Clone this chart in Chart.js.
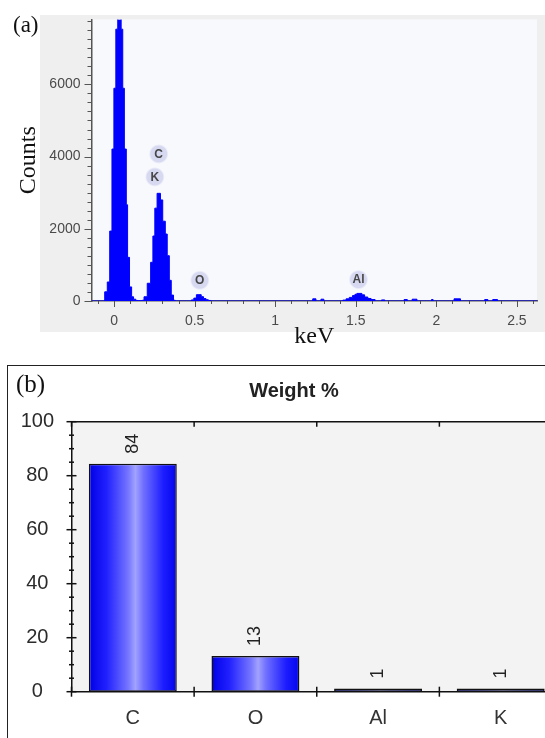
<!DOCTYPE html>
<html lang="en">
<head>
<meta charset="UTF-8">
<title>EDS spectrum and weight %</title>
<script src="https://cdn.jsdelivr.net/npm/chart.js"></script>
<style>
    body {
        margin: 0;
        width: 545px;
        height: 738px;
        overflow: hidden;
        background: #fff;
        position: relative;
        font-family: "Liberation Sans", Arial, sans-serif;
    }
    .tag {
        position: absolute;
        font-family: "Liberation Serif", "Times New Roman", serif;
        color: #111;
        line-height: 1;
    }
    #grayA {
        position: absolute;
        left: 40px; top: 15px;
        width: 505px; height: 317px;
        background: #efefef;
    }
    #boxB {
        position: absolute;
        left: 7px; top: 365px;
        width: 600px; height: 400px;
        border: 1.5px solid #222;
        box-sizing: border-box;
    }
    #titleB {
        position: absolute;
        left: 194px; top: 378px;
        width: 200px;
        text-align: center;
        font-weight: bold;
        font-size: 20px;
        line-height: 24px;
        color: #222;
    }
    canvas { position: absolute; left: 0; }
    #spec { top: 0; }
    #weights { top: 340px; }
</style>
</head>
<body>
    <div id="grayA"></div>
    <div id="boxB"></div>
    <canvas id="spec" width="545" height="352"></canvas>
    <canvas id="weights" width="562" height="398"></canvas>
    <div class="tag" style="left:13px; top:13px; font-size:23px; background:#fff;">(a)</div>
    <div class="tag" style="left:16px; top:371px; font-size:25px;">(b)</div>
    <div id="titleB">Weight %</div>

<script>
    // (a) spectrum, step channels
    const keV = [
        -0.14, -0.075, -0.058, -0.042, -0.027, -0.013, -0.001, 0.011, 0.023, 0.034,
        0.044, 0.054, 0.064, 0.076, 0.084, 0.096, 0.109, 0.121, 0.135, 0.15,
        0.175, 0.186, 0.206, 0.227, 0.241, 0.253, 0.267, 0.288, 0.302, 0.318,
        0.330, 0.343, 0.355, 0.369, 0.38, 0.48, 0.495, 0.511, 0.541, 0.555,
        0.57, 0.585, 0.6, 1.233, 1.253, 1.284, 1.302, 1.42, 1.44, 1.46,
        1.48, 1.495, 1.507, 1.538, 1.555, 1.575, 1.595, 1.62, 1.66, 1.68,
        1.80, 1.82, 1.85, 1.88, 1.97, 1.98, 2.11, 2.15, 2.30, 2.32,
        2.35, 2.38, 2.63
    ];
    const counts = [
        0, 0, 254, 527, 1937, 4209, 5893, 7529, 9400, 9100,
        7529, 5893, 4209, 2665, 1209, 390, 117, 50, 15, 10,
        20, 117, 491, 1072, 1800, 2572, 2982, 2800, 2210, 1855,
        1255, 573, 164, 20, 0, 30, 80, 175, 120, 70,
        35, 15, 0, 60, 0, 50, 0, 25, 60, 100,
        150, 185, 210, 170, 110, 70, 40, 0, 30, 0,
        40, 0, 50, 0, 40, 0, 60, 0, 40, 0,
        40, 0, 0
    ];
    const peakNames = ['C', 'K', 'O', 'Al'];
    const peakKeV = [0.277, 0.253, 0.532, 1.517];
    const peakCounts = [4073, 3437, 573, 592];
    const keVTicks = [0, 0.5, 1, 1.5, 2, 2.5];
    const countTicks = [0, 2000, 4000, 6000];
    // minor tick marks: every 0.1 keV and every 250 counts
    const keVMinor = Array.from({length: 28}, (_, k) => (k - 1) / 10);
    const countMinor = Array.from({length: 32}, (_, k) => k * 250);

    // (b) weight %
    const elements = ['C', 'O', 'Al', 'K'];
    const weights = [84.4, 13.2, 1.2, 1.2];
    const weightTicks = [0, 20, 40, 60, 80, 100];

    const sans = '"Liberation Sans", Arial, sans-serif';
    const serif = '"Liberation Serif", "Times New Roman", serif';
    Chart.defaults.font.family = sans;

    const onTick = (list, v) => list.some(t => Math.abs(t - v) < 1e-6);

    const spectrumMarks = {
        id: 'spectrumMarks',
        beforeDraw(chart) {
            const {ctx, chartArea: a} = chart;
            ctx.save();
            ctx.fillStyle = '#f8f9fd';
            ctx.fillRect(a.left, a.top, a.right - a.left, a.bottom - a.top);
            ctx.restore();
        },
        afterDatasetsDraw(chart) {
            const {ctx, scales: {x, y}} = chart;
            ctx.save();
            ctx.strokeStyle = '#555';
            ctx.lineWidth = 1;
            x.ticks.forEach(t => {
                const px = Math.round(x.getPixelForValue(t.value)) + 0.5;
                const len = t.label ? 6 : 3;
                ctx.beginPath();
                ctx.moveTo(px, x.top);
                ctx.lineTo(px, x.top + len);
                ctx.stroke();
            });
            y.ticks.forEach(t => {
                const py = Math.round(y.getPixelForValue(t.value)) + 0.5;
                const len = t.label ? 7 : 4;
                ctx.beginPath();
                ctx.moveTo(y.right - len, py);
                ctx.lineTo(y.right, py);
                ctx.stroke();
            });
            // circled element markers
            ctx.font = 'bold 12px ' + sans;
            ctx.textAlign = 'center';
            ctx.textBaseline = 'middle';
            peakNames.forEach((n, i) => {
                const px = x.getPixelForValue(peakKeV[i]);
                const py = y.getPixelForValue(peakCounts[i]);
                const g = ctx.createRadialGradient(px, py, 2, px, py, 10);
                g.addColorStop(0, 'rgba(212,214,240,0.95)');
                g.addColorStop(0.75, 'rgba(212,214,240,0.9)');
                g.addColorStop(1, 'rgba(228,230,248,0)');
                ctx.fillStyle = g;
                ctx.beginPath();
                ctx.arc(px, py, 10, 0, Math.PI * 2);
                ctx.fill();
                ctx.fillStyle = '#474747';
                ctx.fillText(n, px, py + 0.5);
            });
            ctx.restore();
        }
    };

    new Chart(document.getElementById('spec'), {
        type: 'line',
        data: {
            datasets: [{
                data: keV.map((v, i) => ({x: v, y: counts[i]})),
                stepped: 'before',
                fill: 'origin',
                backgroundColor: '#0000ff',
                borderColor: '#0000ff',
                borderWidth: 1,
                pointRadius: 0
            }]
        },
        options: {
            responsive: false,
            animation: false,
            devicePixelRatio: 1,
            layout: {padding: {top: 15, left: 0, right: 0, bottom: 0}},
            plugins: {legend: {display: false}, tooltip: {enabled: false}},
            scales: {
                x: {
                    type: 'linear',
                    min: -0.14,
                    max: 2.625,
                    afterFit: s => { s.height = 51; },
                    afterBuildTicks: s => { s.ticks = keVMinor.map(v => ({value: v})); },
                    grid: {display: false, drawTicks: false},
                    border: {color: '#555', width: 1.5},
                    ticks: {
                        autoSkip: false,
                        maxRotation: 0,
                        padding: 12,
                        color: '#4a4a4a',
                        font: {size: 14},
                        callback: v => onTick(keVTicks, v) ? String(Math.round(v * 10) / 10) : ''
                    },
                    title: {
                        display: true,
                        text: 'keV',
                        color: '#111',
                        font: {family: serif, size: 24},
                        padding: {top: 0, bottom: 0.6}
                    }
                },
                y: {
                    min: 0,
                    max: 7800,
                    afterFit: s => { s.width = 91.5; },
                    afterBuildTicks: s => { s.ticks = countMinor.map(v => ({value: v})); },
                    grid: {display: false, drawTicks: false},
                    border: {color: '#555', width: 1.5},
                    ticks: {
                        autoSkip: false,
                        padding: 11,
                        color: '#4a4a4a',
                        font: {size: 14},
                        callback: v => onTick(countTicks, v) ? String(v) : ''
                    },
                    title: {
                        display: true,
                        text: 'Counts',
                        color: '#111',
                        font: {family: serif, size: 24},
                        padding: {top: 14.6, bottom: 0}
                    }
                }
            }
        },
        plugins: [spectrumMarks]
    });

    function barFill(c) {
        const chart = c.chart;
        const x = chart.scales.x;
        if (!x || !chart.chartArea) return '#2a2aff';
        const cx = x.getPixelForValue(c.dataIndex);
        const half = (x.width / elements.length) * 0.717 / 2;
        const g = chart.ctx.createLinearGradient(cx - half, 0, cx + half, 0);
        g.addColorStop(0, '#0000e6');
        g.addColorStop(0.2, '#2020ff');
        g.addColorStop(0.45, '#7676ff');
        g.addColorStop(0.53, '#a2a2ff');
        g.addColorStop(0.62, '#7070ff');
        g.addColorStop(0.85, '#1c1cff');
        g.addColorStop(1, '#0606ee');
        return g;
    }

    const weightMarks = {
        id: 'weightMarks',
        beforeDraw(chart) {
            const {ctx, chartArea: a} = chart;
            ctx.save();
            ctx.fillStyle = '#f3f3f3';
            ctx.fillRect(a.left, a.top, a.right - a.left, a.bottom - a.top);
            ctx.restore();
        },
        afterDraw(chart) {
            const {ctx, chartArea: a, scales: {x, y}} = chart;
            const line = (x1, y1, x2, y2) => {
                ctx.beginPath();
                ctx.moveTo(x1, y1);
                ctx.lineTo(x2, y2);
                ctx.stroke();
            };
            ctx.save();
            ctx.strokeStyle = '#111';
            ctx.lineWidth = 1.5;
            line(a.left, a.top, a.right, a.top);
            y.ticks.forEach(t => {
                const py = y.getPixelForValue(t.value);
                const len = t.label ? 5 : 2.5;
                line(a.left - len, py, a.left + len, py);
            });
            for (let i = 0; i <= elements.length; i++) {
                const px = x.getPixelForValue(i - 0.5);
                line(px, a.bottom - 5, px, a.bottom + 5);
                line(px, a.top, px, a.top + 5);
            }
            // rotated value labels over the bars
            ctx.fillStyle = '#222';
            ctx.font = '18px ' + sans;
            ctx.textAlign = 'left';
            ctx.textBaseline = 'middle';
            chart.getDatasetMeta(0).data.forEach((bar, i) => {
                ctx.save();
                ctx.translate(bar.x, bar.y - 10);
                ctx.rotate(-Math.PI / 2);
                ctx.fillText(String(Math.round(weights[i])), 0, 0);
                ctx.restore();
            });
            ctx.restore();
        }
    };

    new Chart(document.getElementById('weights'), {
        type: 'bar',
        data: {
            labels: elements,
            datasets: [{
                data: weights,
                backgroundColor: barFill,
                borderColor: '#111',
                borderWidth: 1.5,
                borderSkipped: false,
                barPercentage: 0.717,
                categoryPercentage: 1
            }]
        },
        options: {
            responsive: false,
            animation: false,
            devicePixelRatio: 1,
            layout: {padding: {top: 81.7, left: 0, right: 0, bottom: 0}},
            plugins: {legend: {display: false}, tooltip: {enabled: false}},
            scales: {
                x: {
                    afterFit: s => { s.height = 46.3; },
                    grid: {display: false, drawTicks: false},
                    border: {color: '#111', width: 1.5},
                    ticks: {padding: 15, color: '#333', font: {size: 20}}
                },
                y: {
                    min: 0,
                    max: 100,
                    afterFit: s => { s.width = 71.5; },
                    grid: {display: false, drawTicks: false},
                    border: {color: '#111', width: 1.5},
                    ticks: {
                        stepSize: 5,
                        autoSkip: false,
                        padding: 17.5,
                        crossAlign: 'center',
                        color: '#2b2b2b',
                        font: {size: 20},
                        callback: v => weightTicks.includes(v) ? String(v) : ''
                    }
                }
            }
        },
        plugins: [weightMarks]
    });
</script>
</body>
</html>
